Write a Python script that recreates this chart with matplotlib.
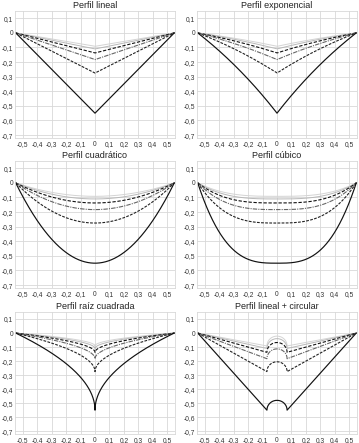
import numpy as np
import matplotlib.pyplot as plt
from matplotlib.ticker import FuncFormatter, MultipleLocator

plt.rcParams['font.family'] = ['Liberation Sans', 'DejaVu Sans']

# half span of the profile and the depths of each curve
HALF_SPAN = 0.55
depths = [0.55, 0.275, 0.183, 0.1375, 0.11, 0.092]
arc_radius = 0.07
exp_k = 0.5

titles = ["Perfil lineal", "Perfil exponencial", "Perfil cuadrático",
          "Perfil cúbico", "Perfil raíz cuadrada", "Perfil lineal + circular"]

x_ticks = [-0.5, -0.4, -0.3, -0.2, -0.1, 0, 0.1, 0.2, 0.3, 0.4, 0.5]
x_labels = ["-0,5", "-0,4", "-0,3", "-0,2", "-0,1", "0", "0,1", "0,2", "0,3", "0,4", "0,5"]

styles = [
    dict(color="#111111", ls="-", lw=0.85),
    dict(color="#222222", ls=(0, (2.5, 1.2)), lw=0.8),
    dict(color="#666666", ls=(0, (4, 1, 1, 1)), lw=0.8),
    dict(color="#111111", ls=(0, (3, 1.5)), lw=0.8),
    dict(color="#b8b8b8", ls="-", lw=0.7),
    dict(color="#d4d4d4", ls="-", lw=0.7),
]


def profile(kind, x, d):
    u = np.abs(x) / HALF_SPAN
    if kind == 0:
        return -d * (1 - u)
    if kind == 1:
        return -d * (np.exp(exp_k * (1 - u)) - 1) / (np.exp(exp_k) - 1)
    if kind == 2:
        return -d * (1 - u ** 2)
    if kind == 3:
        return -d * (1 - u ** 3)
    if kind == 4:
        return -d * (1 - np.sqrt(u))
    # lineal + circular
    y = -d * (HALF_SPAN - np.abs(x)) / (HALF_SPAN - arc_radius)
    inside = np.abs(x) < arc_radius
    y[inside] = -d + np.sqrt(arc_radius ** 2 - x[inside] ** 2)
    return y


def fmt(v, pos):
    s = f"{v:.1f}".replace(".", ",")
    if s in ("0,0", "-0,0"):
        return "0"
    return s


fig = plt.figure(figsize=(3.59, 4.43), dpi=100)
W, H = 359.0, 443.0
lefts = [15, 197]
widths = [160, 160]
rows = [(11, 138), (161, 288), (312, 434)]

x = np.linspace(-HALF_SPAN, HALF_SPAN, 1101)

for i, title in enumerate(titles):
    r, c = divmod(i, 2)
    top, bot = rows[r]
    ax = fig.add_axes([lefts[c] / W, 1 - bot / H, widths[c] / W, (bot - top) / H])
    for d, st in reversed(list(zip(depths, styles))):
        ax.plot(x, profile(i, x, d), **st)
    ax.set_xlim(-0.555, 0.555)
    ax.set_ylim(-0.72, 0.15)
    ax.set_xticks(x_ticks, x_labels)
    for lbl in ax.get_xticklabels():
        lbl.set_verticalalignment("baseline")
    ax.yaxis.set_major_locator(MultipleLocator(0.1))
    ax.yaxis.set_major_formatter(FuncFormatter(fmt))
    ax.grid(True, color="#d8d8d8", lw=0.6)
    ax.set_axisbelow(True)
    for sp in ax.spines.values():
        sp.set_color("#d8d8d8")
        sp.set_linewidth(0.6)
    ax.tick_params(axis="x", length=0, labelsize=4.8, colors="#333333", pad=5.5)
    ax.tick_params(axis="y", length=0, labelsize=4.8, colors="#333333", pad=1.2)
    ax.set_title(title, fontsize=6.5, pad=2.5, color="#222222")

fig.savefig("out.png", dpi=100)
